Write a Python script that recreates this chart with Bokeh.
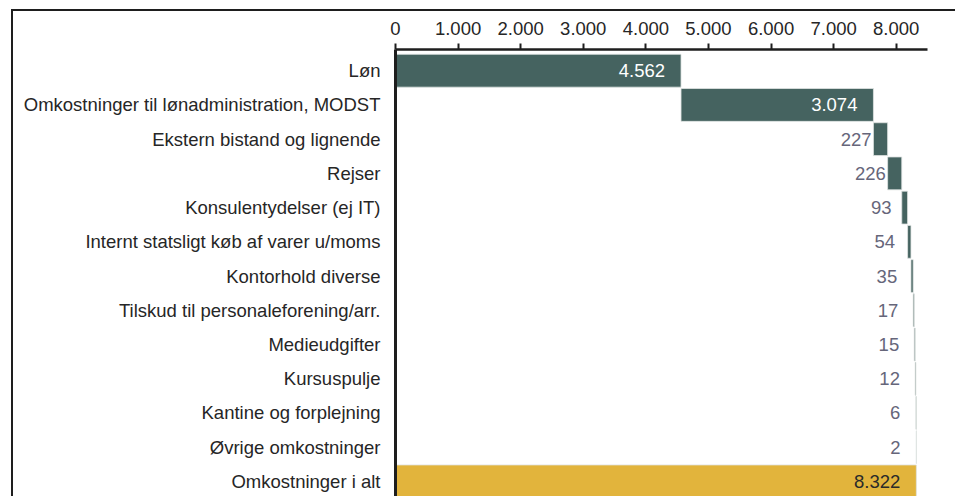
import numpy as np
from bokeh.plotting import figure
from bokeh.models import Range1d, FixedTicker, ColumnDataSource
from bokeh.embed import file_html
from bokeh.resources import INLINE
from bokeh.core.properties import value

categories = [
    "Løn",
    "Omkostninger til lønadministration, MODST",
    "Ekstern bistand og lignende",
    "Rejser",
    "Konsulentydelser (ej IT)",
    "Internt statsligt køb af varer u/moms",
    "Kontorhold diverse",
    "Tilskud til personaleforening/arr.",
    "Medieudgifter",
    "Kursuspulje",
    "Kantine og forplejning",
    "Øvrige omkostninger",
    "Omkostninger i alt",
]
amounts = [4562, 3074, 227, 226, 93, 54, 35, 17, 15, 12, 6, 2]
total = 8322
value_labels = ["4.562", "3.074", "227", "226", "93", "54", "35", "17", "15", "12", "6", "2", "8.322"]
x_ticks = [0, 1000, 2000, 3000, 4000, 5000, 6000, 7000, 8000]
x_tick_labels = ["0", "1.000", "2.000", "3.000", "4.000", "5.000", "6.000", "7.000", "8.000"]

TEAL = "#456360"
GOLD = "#E2B43C"
FONT = "Liberation Sans"

ends = list(np.cumsum(amounts))
starts = [0] + ends[:-1]
lefts = starts + [0]
rights = ends + [total]
ys = list(range(len(categories)))
colors = [TEAL] * len(amounts) + [GOLD]
label_colors = ["white", "white"] + ["#66667a"] * (len(amounts) - 2) + ["#2a2a2a"]

src = ColumnDataSource(dict(y=ys, left=lefts, right=rights, color=colors,
                            label=value_labels, lcolor=label_colors))

p = figure(width=944, height=487, x_range=Range1d(0, 8500), y_range=Range1d(12.5, -0.62),
           x_axis_location="above", output_backend="svg", toolbar_location=None,
           min_border_left=382, min_border_right=30, min_border_top=38, min_border_bottom=0,
           styles={"margin-left": "11px", "margin-top": "9px",
                   "border-top": "2px solid #1e1e1e", "border-left": "2px solid #1e1e1e"})

p.hbar(y="y", left="left", right="right", height=0.96, fill_color="color",
       line_color="#dfe3e2", line_width=0.8, source=src)
p.text(x="right", y="y", text="label", text_color="lcolor", text_align="right",
       text_baseline="middle", x_offset=-16, text_font=value(FONT),
       text_font_size="18.5px", source=src)

p.xgrid.visible = False
p.ygrid.visible = False
p.outline_line_color = None

xa = p.xaxis[0]
xa.ticker = FixedTicker(ticks=x_ticks)
xa.major_label_overrides = {t: l for t, l in zip(x_ticks, x_tick_labels)}
xa.minor_tick_line_color = None
xa.major_tick_out = 6
xa.major_tick_in = 0
xa.major_tick_line_width = 2
xa.major_tick_line_color = "#1e1e1e"
xa.axis_line_width = 2.5
xa.axis_line_color = "#1e1e1e"
xa.major_label_standoff = 9
xa.major_label_text_font = FONT
xa.major_label_text_font_size = "18.5px"
xa.major_label_text_color = "#262626"

ya = p.yaxis[0]
ya.ticker = FixedTicker(ticks=ys)
ya.major_label_overrides = {i: c for i, c in enumerate(categories)}
ya.minor_tick_line_color = None
ya.major_tick_out = 0
ya.major_tick_in = 0
ya.axis_line_width = 3
ya.axis_line_color = "#1e1e1e"
ya.major_label_standoff = 15
ya.major_label_text_font = FONT
ya.major_label_text_font_size = "18.5px"
ya.major_label_text_color = "#262626"

open("out.html", "w").write(file_html(p, INLINE))
